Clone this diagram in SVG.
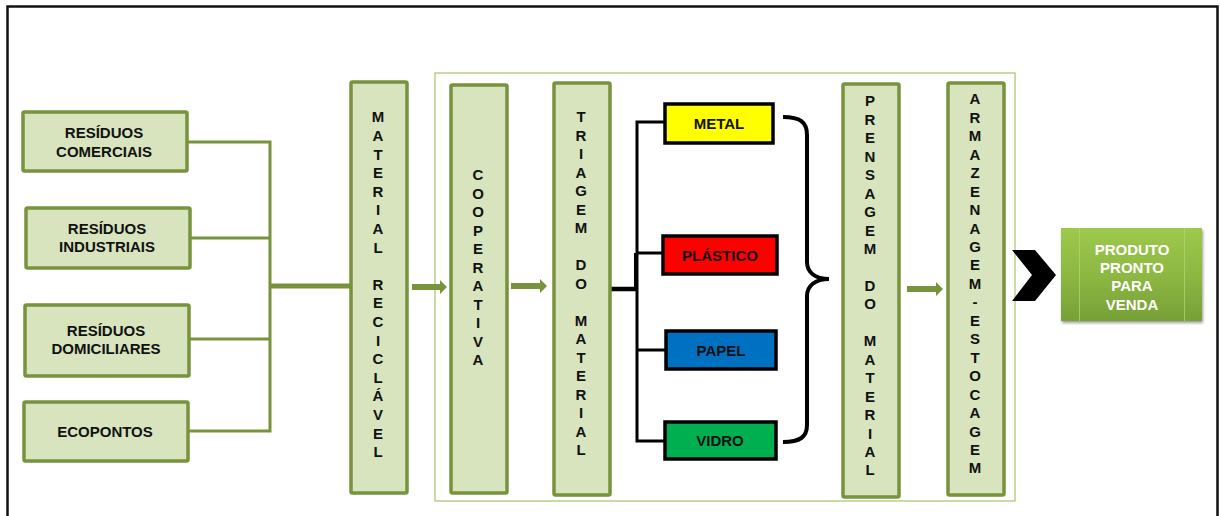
<svg xmlns="http://www.w3.org/2000/svg" width="1220" height="516" viewBox="0 0 1220 516">
<defs>
<style>
.box{fill:#D7E4BD;stroke:#77933C;stroke-width:3.5}
.t{font-family:"Liberation Sans",Arial,sans-serif;font-weight:bold;font-size:15px;fill:#111;text-anchor:middle}
.w{fill:#fff}
.g{stroke:#77933C;stroke-width:3;fill:none}
.k{stroke:#000;fill:none}
.mat{stroke:#000;stroke-width:3.5}
.ar{fill:#77933C}
</style>
<linearGradient id="pg" x1="0" y1="0" x2="0" y2="1">
<stop offset="0" stop-color="#9DC94C"/>
<stop offset="0.5" stop-color="#8DB842"/>
<stop offset="1" stop-color="#76A036"/>
</linearGradient>
<filter id="sh" x="-10%" y="-10%" width="130%" height="130%">
<feGaussianBlur in="SourceAlpha" stdDeviation="1.5"/>
<feOffset dx="1" dy="2" result="o"/>
<feComponentTransfer><feFuncA type="linear" slope="0.4"/></feComponentTransfer>
<feMerge><feMergeNode/><feMergeNode in="SourceGraphic"/></feMerge>
</filter>
</defs>
<rect width="1220" height="516" fill="#fff"/>
<rect x="7.5" y="6.5" width="1210" height="520" fill="none" stroke="#111" stroke-width="2.5"/>
<rect id="container" x="435" y="73" width="580" height="428" fill="none" stroke="#A9C36B" stroke-width="1.2"/>

<g id="connectors">
<path class="g" d="M187,142 H270 V431 H188 M190,238 H270 M189,339 H270"/>
<path d="M270,286 H350" stroke="#77933C" stroke-width="5" fill="none"/>
<polygon class="ar" points="412,284 440,284 440,280 447,287 440,294 440,290 412,290"/>
<polygon class="ar" points="511,283 540,283 540,279 547,286 540,293 540,289 511,289"/>
<polygon class="ar" points="907,286 936,286 936,282 943,289 936,296 936,292 907,292"/>
<path d="M610,289 H637" stroke="#000" stroke-width="4.5" fill="none"/>
<path class="k" stroke-width="3" d="M665,122 H637 V441 H665 M663,253 H637 M666,350 H637"/>
<rect x="634" y="253" width="3" height="36" fill="#000"/>
<path class="k" stroke-width="4" d="M783,117 C800,117 807,122 807,135 L807,262 C807,272 815,279 829,279 C815,279 807,286 807,296 L807,425 C807,437 800,442 783,442"/>
<polygon points="1012,250 1035,250 1056,275 1035,301 1012,301 1032,275" fill="#000"/>
</g>

<g id="residuos-comerciais">
<rect class="box" x="23" y="112" width="164" height="59" rx="1.5"/>
<text class="t" x="104" y="138">RESÍDUOS</text>
<text class="t" x="104" y="157">COMERCIAIS</text>
</g>
<g id="residuos-industriais">
<rect class="box" x="26" y="208" width="164" height="60" rx="1.5"/>
<text class="t" x="107" y="234">RESÍDUOS</text>
<text class="t" x="107" y="252">INDUSTRIAIS</text>
</g>
<g id="residuos-domiciliares">
<rect class="box" x="25" y="305" width="164" height="71" rx="1.5"/>
<text class="t" x="106" y="336">RESÍDUOS</text>
<text class="t" x="106" y="354">DOMICILIARES</text>
</g>
<g id="ecopontos">
<rect class="box" x="24" y="402" width="164" height="59" rx="1.5"/>
<text class="t" x="105" y="437">ECOPONTOS</text>
</g>

<g id="material-reciclavel">
<rect class="box" x="351" y="82" width="56" height="411" rx="1.5"/>
<text class="t" x="378" y="122.4"><tspan x="378">M</tspan><tspan x="378" dy="18.6">A</tspan><tspan x="378" dy="18.6">T</tspan><tspan x="378" dy="18.6">E</tspan><tspan x="378" dy="18.6">R</tspan><tspan x="378" dy="18.6">I</tspan><tspan x="378" dy="18.6">A</tspan><tspan x="378" dy="18.6">L</tspan><tspan x="378" dy="37.2">R</tspan><tspan x="378" dy="18.6">E</tspan><tspan x="378" dy="18.6">C</tspan><tspan x="378" dy="18.6">I</tspan><tspan x="378" dy="18.6">C</tspan><tspan x="378" dy="18.6">L</tspan><tspan x="378" dy="18.6">Á</tspan><tspan x="378" dy="18.6">V</tspan><tspan x="378" dy="18.6">E</tspan><tspan x="378" dy="18.6">L</tspan></text>
</g>

<g id="cooperativa">
<rect class="box" x="451" y="85" width="56" height="408" rx="1.5"/>
<text class="t" x="478" y="180.4"><tspan x="478">C</tspan><tspan x="478" dy="18.5">O</tspan><tspan x="478" dy="18.5">O</tspan><tspan x="478" dy="18.5">P</tspan><tspan x="478" dy="18.5">E</tspan><tspan x="478" dy="18.5">R</tspan><tspan x="478" dy="18.5">A</tspan><tspan x="478" dy="18.5">T</tspan><tspan x="478" dy="18.5">I</tspan><tspan x="478" dy="18.5">V</tspan><tspan x="478" dy="18.5">A</tspan></text>
</g>

<g id="triagem">
<rect class="box" x="554" y="83" width="56" height="412" rx="1.5"/>
<text class="t" x="581" y="122.4"><tspan x="581">T</tspan><tspan x="581" dy="18.5">R</tspan><tspan x="581" dy="18.5">I</tspan><tspan x="581" dy="18.5">A</tspan><tspan x="581" dy="18.5">G</tspan><tspan x="581" dy="18.5">E</tspan><tspan x="581" dy="18.5">M</tspan><tspan x="581" dy="37">D</tspan><tspan x="581" dy="18.5">O</tspan><tspan x="581" dy="37">M</tspan><tspan x="581" dy="18.5">A</tspan><tspan x="581" dy="18.5">T</tspan><tspan x="581" dy="18.5">E</tspan><tspan x="581" dy="18.5">R</tspan><tspan x="581" dy="18.5">I</tspan><tspan x="581" dy="18.5">A</tspan><tspan x="581" dy="18.5">L</tspan></text>
</g>

<g id="metal">
<rect class="mat" x="665" y="104" width="108" height="39" fill="#FFFF00"/>
<text class="t" x="719" y="129">METAL</text>
</g>
<g id="plastico">
<rect class="mat" x="663" y="236" width="114" height="38" fill="#FF0000"/>
<text class="t" x="720" y="260.5">PLÁSTICO</text>
</g>
<g id="papel">
<rect class="mat" x="666" y="331" width="110" height="38" fill="#0070C0"/>
<text class="t" x="721" y="355.5">PAPEL</text>
</g>
<g id="vidro">
<rect class="mat" x="665" y="422" width="111" height="37" fill="#00B050"/>
<text class="t" x="720" y="446">VIDRO</text>
</g>

<g id="prensagem">
<rect class="box" x="843" y="84" width="56" height="413" rx="1.5"/>
<text class="t" x="870" y="106.4"><tspan x="870">P</tspan><tspan x="870" dy="18.45">R</tspan><tspan x="870" dy="18.45">E</tspan><tspan x="870" dy="18.45">N</tspan><tspan x="870" dy="18.45">S</tspan><tspan x="870" dy="18.45">A</tspan><tspan x="870" dy="18.45">G</tspan><tspan x="870" dy="18.45">E</tspan><tspan x="870" dy="18.45">M</tspan><tspan x="870" dy="36.9">D</tspan><tspan x="870" dy="18.45">O</tspan><tspan x="870" dy="36.9">M</tspan><tspan x="870" dy="18.45">A</tspan><tspan x="870" dy="18.45">T</tspan><tspan x="870" dy="18.45">E</tspan><tspan x="870" dy="18.45">R</tspan><tspan x="870" dy="18.45">I</tspan><tspan x="870" dy="18.45">A</tspan><tspan x="870" dy="18.45">L</tspan></text>
</g>

<g id="armazenagem">
<rect class="box" x="948" y="83" width="56" height="412" rx="1.5"/>
<text class="t" x="975" y="104.4"><tspan x="975">A</tspan><tspan x="975" dy="18.45">R</tspan><tspan x="975" dy="18.45">M</tspan><tspan x="975" dy="18.45">A</tspan><tspan x="975" dy="18.45">Z</tspan><tspan x="975" dy="18.45">E</tspan><tspan x="975" dy="18.45">N</tspan><tspan x="975" dy="18.45">A</tspan><tspan x="975" dy="18.45">G</tspan><tspan x="975" dy="18.45">E</tspan><tspan x="975" dy="18.45">M</tspan><tspan x="975" dy="18.45">-</tspan><tspan x="975" dy="18.45">E</tspan><tspan x="975" dy="18.45">S</tspan><tspan x="975" dy="18.45">T</tspan><tspan x="975" dy="18.45">O</tspan><tspan x="975" dy="18.45">C</tspan><tspan x="975" dy="18.45">A</tspan><tspan x="975" dy="18.45">G</tspan><tspan x="975" dy="18.45">E</tspan><tspan x="975" dy="18.45">M</tspan></text>
</g>

<g id="produto">
<rect x="1061" y="228" width="141" height="93" fill="url(#pg)" filter="url(#sh)"/>
<path d="M1079.5,228 V321 M1184.5,228 V321" stroke="#B5D77A" stroke-width="1" opacity="0.7"/>
<text class="t w" x="1132" y="255.4">PRODUTO</text>
<text class="t w" x="1132" y="273.4">PRONTO</text>
<text class="t w" x="1132" y="291.4">PARA</text>
<text class="t w" x="1132" y="310.4">VENDA</text>
</g>
</svg>
